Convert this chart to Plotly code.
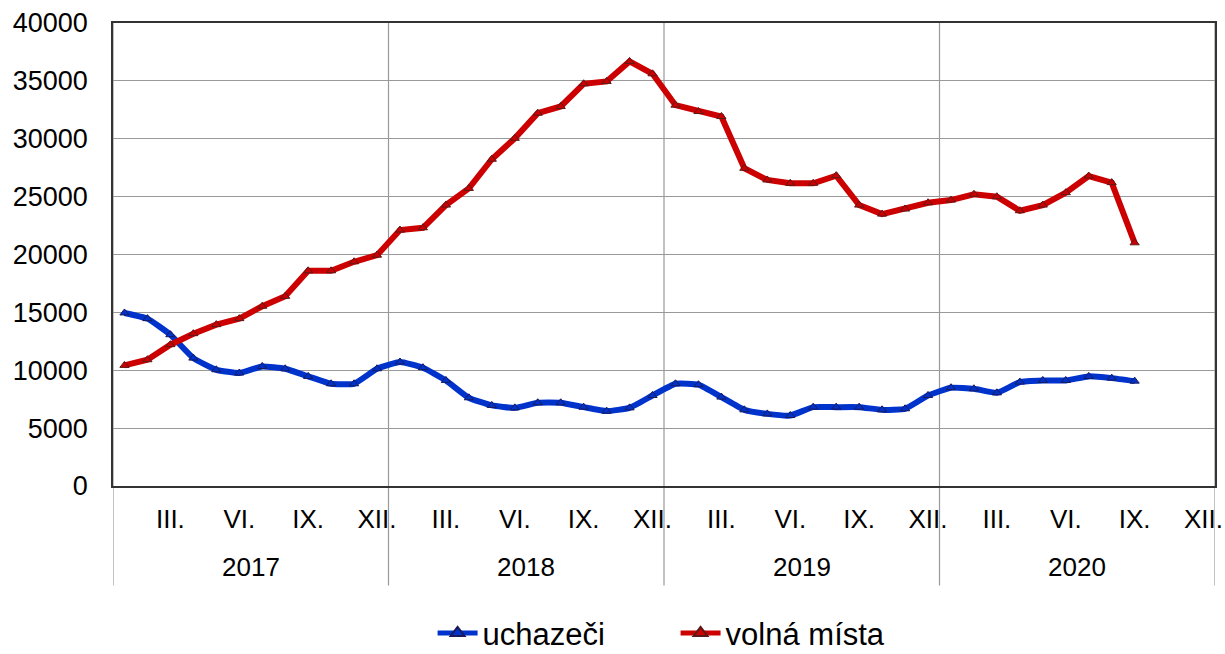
import plotly.graph_objects as go

months_idx = list(range(45))  # Jan 2017 .. Sep 2020
uchazeci = [14950, 14460, 13070, 11050, 10040, 9760, 10330, 10130, 9470, 8830, 8830, 10130,
            10710, 10220, 9120, 7620, 6960, 6750, 7190, 7190, 6810, 6470, 6750, 7820,
            8830, 8750, 7680, 6580, 6230, 6090, 6810, 6810, 6810, 6580, 6670, 7820,
            8490, 8400, 8050, 8980, 9120, 9120, 9470, 9320, 9060]
volna_mista = [10420, 10910, 12210, 13160, 13940, 14460, 15530, 16390, 18590, 18590, 19370, 19940,
               22110, 22310, 24270, 25710, 28230, 30040, 32210, 32790, 34750, 34950, 36680, 35610,
               32900, 32350, 31920, 27450, 26440, 26150, 26150, 26810, 24270, 23490, 23930, 24470,
               24700, 25200, 24990, 23780, 24270, 25340, 26780, 26210, 21010]
tick_vals = [2, 5, 8, 11, 14, 17, 20, 23, 26, 29, 32, 35, 38, 41, 44, 47]
tick_text = ["III.", "VI.", "IX.", "XII."] * 4
years = ["2017", "2018", "2019", "2020"]
year_centers = [5.5, 17.5, 29.5, 41.5]
year_bounds = [-0.5, 11.5, 23.5, 35.5, 47.5]

FONT = "Liberation Sans, Arial, sans-serif"

fig = go.Figure()
fig.add_trace(go.Scatter(
    x=months_idx, y=uchazeci, name="uchazeči", mode="lines+markers",
    line=dict(color="#0033CC", width=6, shape="spline", smoothing=0.4),
    marker=dict(symbol="triangle-up", size=8, color="#0033CC",
                line=dict(color="#1a1a5a", width=1)),
))
fig.add_trace(go.Scatter(
    x=months_idx, y=volna_mista, name="volná místa", mode="lines+markers",
    line=dict(color="#CC0000", width=6),
    marker=dict(symbol="triangle-up", size=8, color="#CC0000",
                line=dict(color="#5a1a1a", width=1)),
))

for xb in year_bounds:
    fig.add_shape(type="line", xref="x", yref="paper", x0=xb, x1=xb, y0=-0.215, y1=1,
                  line=dict(color="#999999", width=1.2), layer="below")

for yc, yr in zip(year_centers, years):
    fig.add_annotation(x=yc, y=-0.175, xref="x", yref="paper", text=yr, showarrow=False,
                       yanchor="middle", font=dict(size=26, color="black", family=FONT))

fig.update_layout(
    width=1225, height=654,
    margin=dict(l=113, r=10, t=23, b=168, autoexpand=False),
    plot_bgcolor="white", paper_bgcolor="white",
    font=dict(family=FONT, size=26, color="black"),
    showlegend=True,
    legend=dict(orientation="h", x=0.29, xanchor="left", y=-0.318, yanchor="middle",
                font=dict(size=31), itemwidth=40, entrywidth=188, tracegroupgap=0,
                itemsizing="constant"),
    xaxis=dict(range=[-0.5, 47.5], tickmode="array", tickvals=tick_vals, ticktext=tick_text,
               showgrid=False, zeroline=False, showline=True, mirror=True, automargin=False,
               linecolor="#333333", linewidth=1.5, ticks="", ticklabelstandoff=9,
               tickfont=dict(size=26)),
    yaxis=dict(range=[0, 40000], tickmode="linear", tick0=0, dtick=5000, tickformat="d",
               showgrid=True, gridcolor="#999999", gridwidth=1.2, zeroline=False, automargin=False,
               showline=True, mirror=True, linecolor="#333333", linewidth=1.5,
               ticks="", ticklabelstandoff=18, tickfont=dict(size=27)),
)

fig.write_html("out.html", config={"displayModeBar": False},
               post_script="document.body.style.margin='0';")
